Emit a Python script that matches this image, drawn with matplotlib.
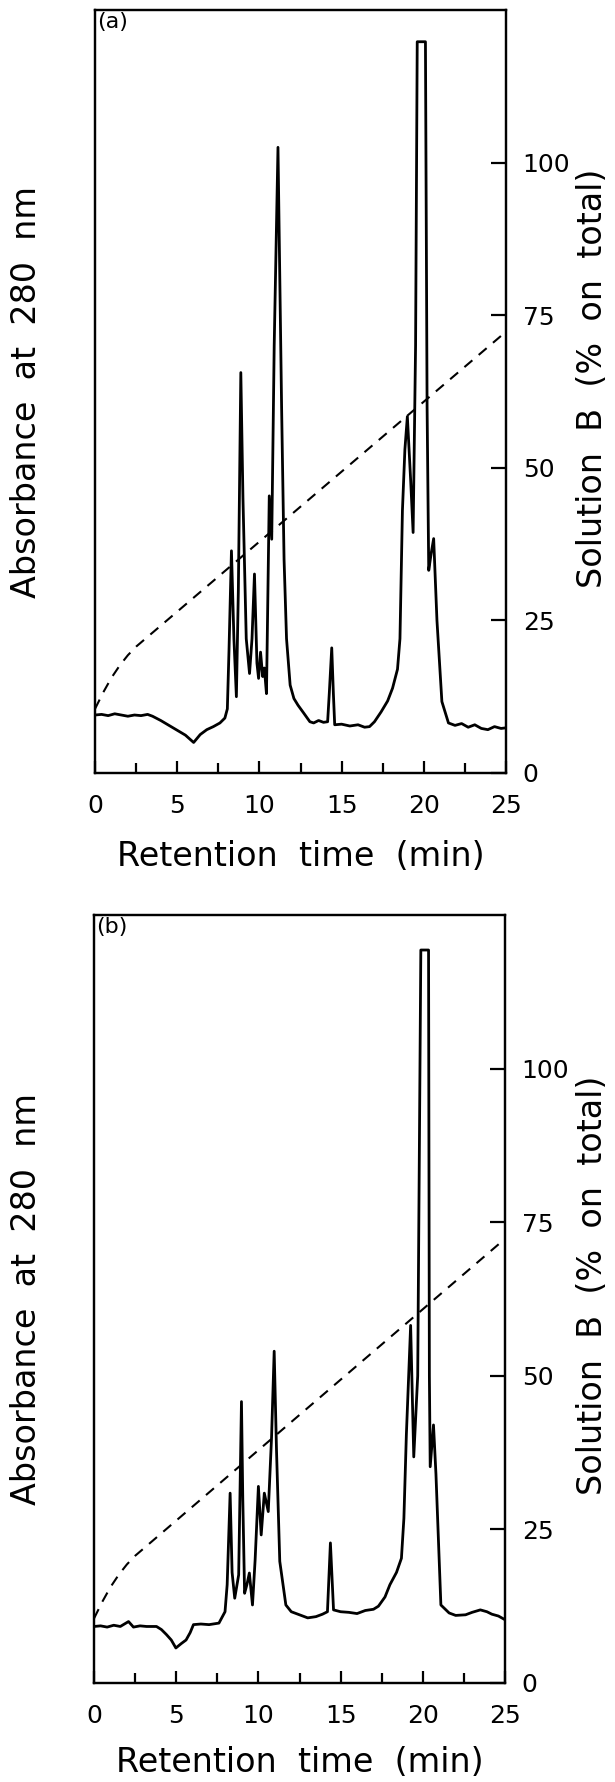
import matplotlib
matplotlib.use("Agg")
import matplotlib.pyplot as plt
from matplotlib.ticker import MultipleLocator

# 色谱图数据（吸光度为任意单位，与右轴同一刻度读取）
time_a = [0.0, 0.4, 0.8, 1.2, 1.6, 2.0, 2.4, 2.8, 3.2, 3.5, 4.0, 4.5, 5.0, 5.5, 6.0,
          6.4, 6.8, 7.2, 7.6, 7.9, 8.05, 8.15, 8.3, 8.45, 8.6, 8.72, 8.87, 9.0, 9.2,
          9.4, 9.55, 9.7, 9.85, 9.95, 10.07, 10.2, 10.3, 10.43, 10.52, 10.6, 10.75,
          10.9, 11.13, 11.35, 11.5, 11.65, 11.87, 12.1, 12.35, 12.7, 13.07, 13.3,
          13.6, 13.9, 14.15, 14.25, 14.4, 14.5, 14.58, 15.0, 15.5, 16.0, 16.4, 16.7,
          17.0, 17.4, 17.8, 18.1, 18.4, 18.55, 18.7, 18.85, 19.0, 19.2, 19.35, 19.5,
          19.6, 20.1, 20.2, 20.3, 20.45, 20.6, 20.8, 21.1, 21.5, 21.9, 22.3, 22.7,
          23.1, 23.5, 23.9, 24.3, 24.7, 25.0]
abs_a = [9.5, 9.6, 9.4, 9.7, 9.5, 9.3, 9.5, 9.4, 9.6, 9.3, 8.6, 7.8, 7.0, 6.2, 5.0,
         6.3, 7.1, 7.6, 8.2, 9.0, 10.5, 20.0, 36.4, 22.0, 12.5, 30.0, 65.6, 45.0, 22.0,
         16.3, 22.0, 32.6, 18.0, 15.5, 19.8, 15.8, 17.2, 13.0, 30.0, 45.4, 38.3,
         70.0, 102.5, 60.0, 35.0, 22.0, 14.4, 12.2, 11.1, 9.8, 8.4, 8.2,
         8.6, 8.3, 8.4, 13.0, 20.5, 13.0, 7.9, 8.0, 7.7, 7.9, 7.5, 7.6,
         8.4, 10.0, 11.8, 13.9, 17.0, 22.0, 43.0, 53.0, 58.4, 48.0, 39.4, 70.0,
         119.8, 119.8, 60.0, 33.2, 36.0, 38.4, 25.0, 11.7, 8.2, 7.8, 8.1, 7.5,
         7.9, 7.3, 7.1, 7.6, 7.3, 7.4]

time_b = [0.0, 0.4, 0.8, 1.2, 1.6, 2.1, 2.4, 2.8, 3.2, 3.8, 4.1, 4.4, 4.7, 4.98,
          5.3, 5.6, 5.85, 6.05, 6.5, 7.0, 7.6, 7.97, 8.1, 8.28, 8.4, 8.56, 8.8,
          8.97, 9.05, 9.16, 9.3, 9.45, 9.64, 9.8, 10.0, 10.17, 10.36, 10.6, 10.8,
          10.96, 11.1, 11.3, 11.67, 12.0, 12.5, 13.0, 13.5, 13.9, 14.2, 14.38,
          14.57, 15.0, 15.5, 16.0, 16.5, 17.0, 17.3, 17.7, 18.0, 18.4, 18.7,
          18.85, 19.0, 19.26, 19.45, 19.69, 19.88, 20.35, 20.4, 20.45, 20.65,
          20.8, 21.1, 21.6, 22.0, 22.6, 23.0, 23.5, 23.9, 24.2, 24.6, 25.0]
abs_b = [9.2, 9.3, 9.1, 9.4, 9.2, 10.0, 9.1, 9.3, 9.2, 9.2, 8.7, 7.9, 7.0, 5.7,
         6.4, 7.0, 8.2, 9.5, 9.6, 9.5, 9.75, 11.6, 16.0, 30.9, 18.0, 13.8, 17.6,
         45.8, 30.0, 14.6, 16.0, 17.9, 12.7, 20.0, 32.0, 24.1, 30.9, 27.9, 40.0,
         54.0, 38.0, 19.8, 12.7, 11.6, 11.1, 10.6, 10.8, 11.2, 11.6, 22.8,
         11.9, 11.6, 11.5, 11.3, 11.8, 12.0, 12.5, 14.0, 16.0, 18.0, 20.3,
         26.8, 40.4, 58.2, 36.8, 50.0, 119.3, 119.3, 50.0, 35.2, 42.0,
         34.0, 12.7, 11.4, 11.0, 11.1, 11.5, 11.9, 11.6, 11.2, 10.9, 10.3]

# 梯度（溶液B百分比）
grad_time = [0.0, 0.5, 1.0, 1.5, 2.0, 2.5, 25.0]
grad_b = [10.5, 13.2, 15.6, 17.6, 19.3, 20.7, 72.3]

x_ticks = [0, 5, 10, 15, 20, 25]
b_ticks = [0, 25, 50, 75, 100]

W, H = 615, 1782
fig = plt.figure(figsize=(W / 100, H / 100), dpi=100)
fig.patch.set_facecolor("white")


def draw_panel(box, t, a, tag, ylab_center, xlab_y):
    left, top, right, bottom = box
    ax = fig.add_axes([left / W, 1 - bottom / H, (right - left) / W, (bottom - top) / H])
    ax.plot(t, a, color="black", lw=2.0, solid_joinstyle="round")
    ax.set_xlim(0, 25)
    ax.set_ylim(0, 125)
    ax.set_yticks([])
    ax.set_xticks(x_ticks)
    ax.xaxis.set_minor_locator(MultipleLocator(2.5))
    ax.tick_params(axis="x", which="major", direction="in", length=9, width=1.6,
                   labelsize=18, pad=15)
    ax.tick_params(axis="x", which="minor", direction="in", length=7, width=1.6)
    for sp in ax.spines.values():
        sp.set_linewidth(1.6)
    ax.text(0.004, 0.997, tag, transform=ax.transAxes, ha="left", va="top", fontsize=16)

    # 右轴：溶液B梯度
    ax2 = ax.twinx()
    ax2.plot(grad_time, grad_b, color="black", lw=1.5, linestyle=(0, (5, 4)))
    ax2.set_ylim(0, 125)
    ax2.set_yticks(b_ticks)
    ax2.tick_params(axis="y", direction="in", length=11, width=1.6, labelsize=18, pad=12)
    for sp in ax2.spines.values():
        sp.set_linewidth(1.6)

    fig.text(27 / W, 1 - ylab_center / H, "Absorbance  at  280  nm", rotation=90,
             ha="center", va="center", fontsize=24)
    fig.text(593 / W, 1 - (ylab_center - 14) / H, "Solution  B  (%  on  total)",
             rotation=90, ha="center", va="center", fontsize=24)
    fig.text((left + right) / 2 / W, 1 - xlab_y / H, "Retention  time  (min)",
             ha="center", va="center", fontsize=24)
    return ax


draw_panel((95, 10, 506, 773), time_a, abs_a, "(a)", 392, 857)
draw_panel((94, 915, 505, 1683), time_b, abs_b, "(b)", 1299, 1762)

fig.savefig("out.png", dpi=100)
